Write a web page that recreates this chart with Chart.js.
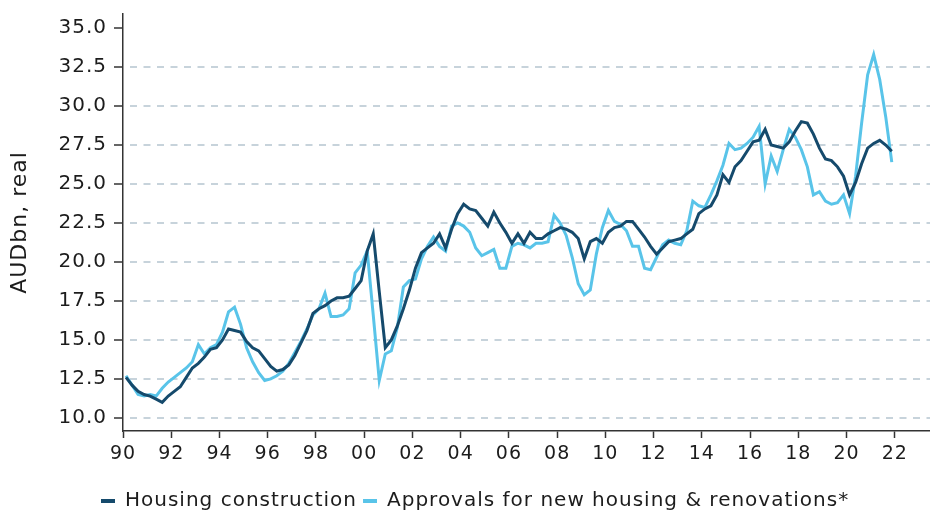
<!DOCTYPE html>
<html>
<head>
<meta charset="utf-8">
<title>Housing construction vs approvals</title>
<script src="https://cdn.jsdelivr.net/npm/chart.js@4.4.1/dist/chart.umd.min.js"></script>
<style>
  html, body { margin: 0; padding: 0; background: #fff; overflow: hidden; }
</style>
</head>
<body>
<canvas id="chart" width="930" height="521"></canvas>
<script>
// Quarterly, 1990Q1 .. 2021Q4, AUDbn real
const housingConstruction = [
    12.6, 12.1, 11.7, 11.5, 11.4, 11.2, 11.0, 11.4, 11.7, 12.0,
    12.6, 13.2, 13.5, 13.9, 14.4, 14.5, 15.0, 15.7, 15.6, 15.5,
    14.9, 14.5, 14.3, 13.8, 13.3, 13.0, 13.1, 13.4, 14.0, 14.8,
    15.6, 16.7, 17.0, 17.2, 17.5, 17.7, 17.7, 17.8, 18.3, 18.8,
    20.7, 21.8, 18.1, 14.5, 15.0, 15.9, 17.0, 18.2, 19.6, 20.6,
    20.9, 21.2, 21.8, 20.9, 22.1, 23.1, 23.7, 23.4, 23.3, 22.8,
    22.3, 23.2, 22.5, 21.9, 21.2, 21.8, 21.2, 21.9, 21.5, 21.5,
    21.8, 22.0, 22.2, 22.1, 21.9, 21.5, 20.2, 21.3, 21.5, 21.2,
    21.9, 22.2, 22.3, 22.6, 22.6, 22.1, 21.6, 21.0, 20.5, 20.9,
    21.3, 21.4, 21.5, 21.8, 22.1, 23.1, 23.4, 23.6, 24.3, 25.6,
    25.1, 26.1, 26.5, 27.1, 27.7, 27.8, 28.5, 27.5, 27.4, 27.3,
    27.7, 28.4, 29.0, 28.9, 28.2, 27.3, 26.6, 26.5, 26.1, 25.5,
    24.3, 25.1, 26.3, 27.3, 27.6, 27.8, 27.5, 27.1
];
const approvals = [
    12.7, 12.1, 11.5, 11.4, 11.5, 11.4, 11.9, 12.3, 12.6, 12.9,
    13.2, 13.6, 14.7, 14.1, 14.5, 14.7, 15.5, 16.8, 17.1, 16.0,
    14.5, 13.6, 12.9, 12.4, 12.5, 12.7, 13.0, 13.5, 14.2, 14.9,
    15.7, 16.6, 17.0, 18.0, 16.5, 16.5, 16.6, 17.0, 19.3, 19.8,
    20.7, 16.6, 12.4, 14.1, 14.3, 15.8, 18.4, 18.8, 18.9, 20.2,
    21.0, 21.6, 21.0, 20.7, 22.3, 22.5, 22.3, 21.9, 20.9, 20.4,
    20.6, 20.8, 19.6, 19.6, 21.0, 21.2, 21.1, 20.9, 21.2, 21.2,
    21.3, 23.0, 22.5, 21.7, 20.3, 18.6, 17.9, 18.2, 20.5, 22.2,
    23.3, 22.6, 22.4, 22.0, 21.0, 21.0, 19.6, 19.5, 20.3, 21.1,
    21.4, 21.2, 21.1, 22.0, 23.9, 23.6, 23.5, 24.3, 25.2, 26.2,
    27.6, 27.2, 27.3, 27.6, 28.0, 28.7, 25.0, 26.8, 25.8, 27.2,
    28.5, 28.0, 27.2, 26.1, 24.3, 24.5, 23.9, 23.7, 23.8, 24.3,
    23.1, 25.5, 28.9, 32.0, 33.3, 31.7, 29.3, 26.4
];

const yTicks = [10, 12.5, 15, 17.5, 20, 22.5, 25, 27.5, 30, 32.5, 35];
const xTickYears = [1990, 1992, 1994, 1996, 1998, 2000, 2002, 2004, 2006, 2008, 2010, 2012, 2014, 2016, 2018, 2020, 2022];
const xTickLabels = ['90', '92', '94', '96', '98', '00', '02', '04', '06', '08', '10', '12', '14', '16', '18', '20', '22'];

const firstYear = 1990;
// each quarter is placed at its middle
const quarterYears = housingConstruction.map((_, i) => firstYear + (i + 0.5) / 4);
const toPoints = (vals) => vals.map((v, i) => ({ x: quarterYears[i], y: v }));

const DARK = '#154a6c';
const LIGHT = '#59c4e9';
const TEXT = '#1c1c1c';
const FONT = "'DejaVu Sans', Verdana, sans-serif";

// the original text is set a little wider than DejaVu
const textSpacing = {
    id: 'textSpacing',
    beforeUpdate(chart) { chart.ctx.letterSpacing = '1px'; },
    beforeDraw(chart) { chart.ctx.letterSpacing = '1px'; }
};

// shift the legend row to where the original puts it
const legendOffset = {
    id: 'legendOffset',
    afterLayout(chart) {
        if (chart.legend) chart.legend.left = 95;
    }
};

const ctx = document.getElementById('chart').getContext('2d');
new Chart(ctx, {
    type: 'line',
    data: {
        datasets: [{
            label: 'Housing construction',
            data: toPoints(housingConstruction),
            borderColor: DARK,
            backgroundColor: DARK,
            borderWidth: 3,
            pointRadius: 0,
            tension: 0
        }, {
            label: 'Approvals for new housing & renovations*',
            data: toPoints(approvals),
            borderColor: LIGHT,
            backgroundColor: LIGHT,
            borderWidth: 3,
            pointRadius: 0,
            tension: 0
        }]
    },
    options: {
        responsive: false,
        animation: false,
        layout: { padding: { top: 14, right: 0, bottom: 0, left: 0 } },
        plugins: {
            tooltip: { enabled: false },
            legend: {
                position: 'bottom',
                align: 'start',
                labels: {
                    color: TEXT,
                    font: { family: FONT, size: 20 },
                    boxWidth: 14,
                    boxHeight: 4,
                    padding: 6,
                    generateLabels(chart) {
                        return Chart.defaults.plugins.legend.labels.generateLabels(chart)
                            .map(item => ({ ...item, lineWidth: 0 }));
                    }
                }
            }
        },
        scales: {
            x: {
                type: 'linear',
                min: 1990,
                max: 2023.46,
                afterBuildTicks(scale) {
                    scale.ticks = xTickYears.map(v => ({ value: v }));
                },
                afterFit(scale) { scale.height = 54; },
                ticks: {
                    color: TEXT,
                    font: { family: FONT, size: 19 },
                    padding: 5,
                    maxRotation: 0,
                    autoSkip: false,
                    callback: (v) => xTickLabels[xTickYears.indexOf(v)]
                },
                grid: {
                    drawOnChartArea: false,
                    drawTicks: true,
                    tickLength: 7,
                    tickColor: '#333',
                    tickWidth: 1.5
                },
                border: { display: true, color: '#333', width: 1.5 }
            },
            y: {
                min: 9.16,
                max: 35.9,
                afterBuildTicks(scale) {
                    scale.ticks = yTicks.map(v => ({ value: v }));
                },
                afterFit(scale) {
                    scale.width = 123;
                    scale.paddingTop = 0;
                    scale.paddingBottom = 0;
                },
                title: {
                    display: true,
                    text: 'AUDbn, real',
                    color: TEXT,
                    font: { family: FONT, size: 22 },
                    padding: { top: 7, bottom: 0 }
                },
                ticks: {
                    color: TEXT,
                    font: { family: FONT, size: 20 },
                    padding: 7,
                    autoSkip: false,
                    callback: (v) => v.toFixed(1)
                },
                grid: {
                    color: (c) => (c.tick && c.tick.value === 35 ? 'rgba(0,0,0,0)' : '#c7d3db'),
                    lineWidth: 2,
                    drawTicks: true,
                    tickLength: 9,
                    tickColor: '#333',
                    tickWidth: 1.5,
                    tickBorderDash: []
                },
                border: { display: true, color: '#333', width: 1.5, dash: [7, 6.5], dashOffset: 7 }
            }
        }
    },
    plugins: [textSpacing, legendOffset]
});
</script>
</body>
</html>
